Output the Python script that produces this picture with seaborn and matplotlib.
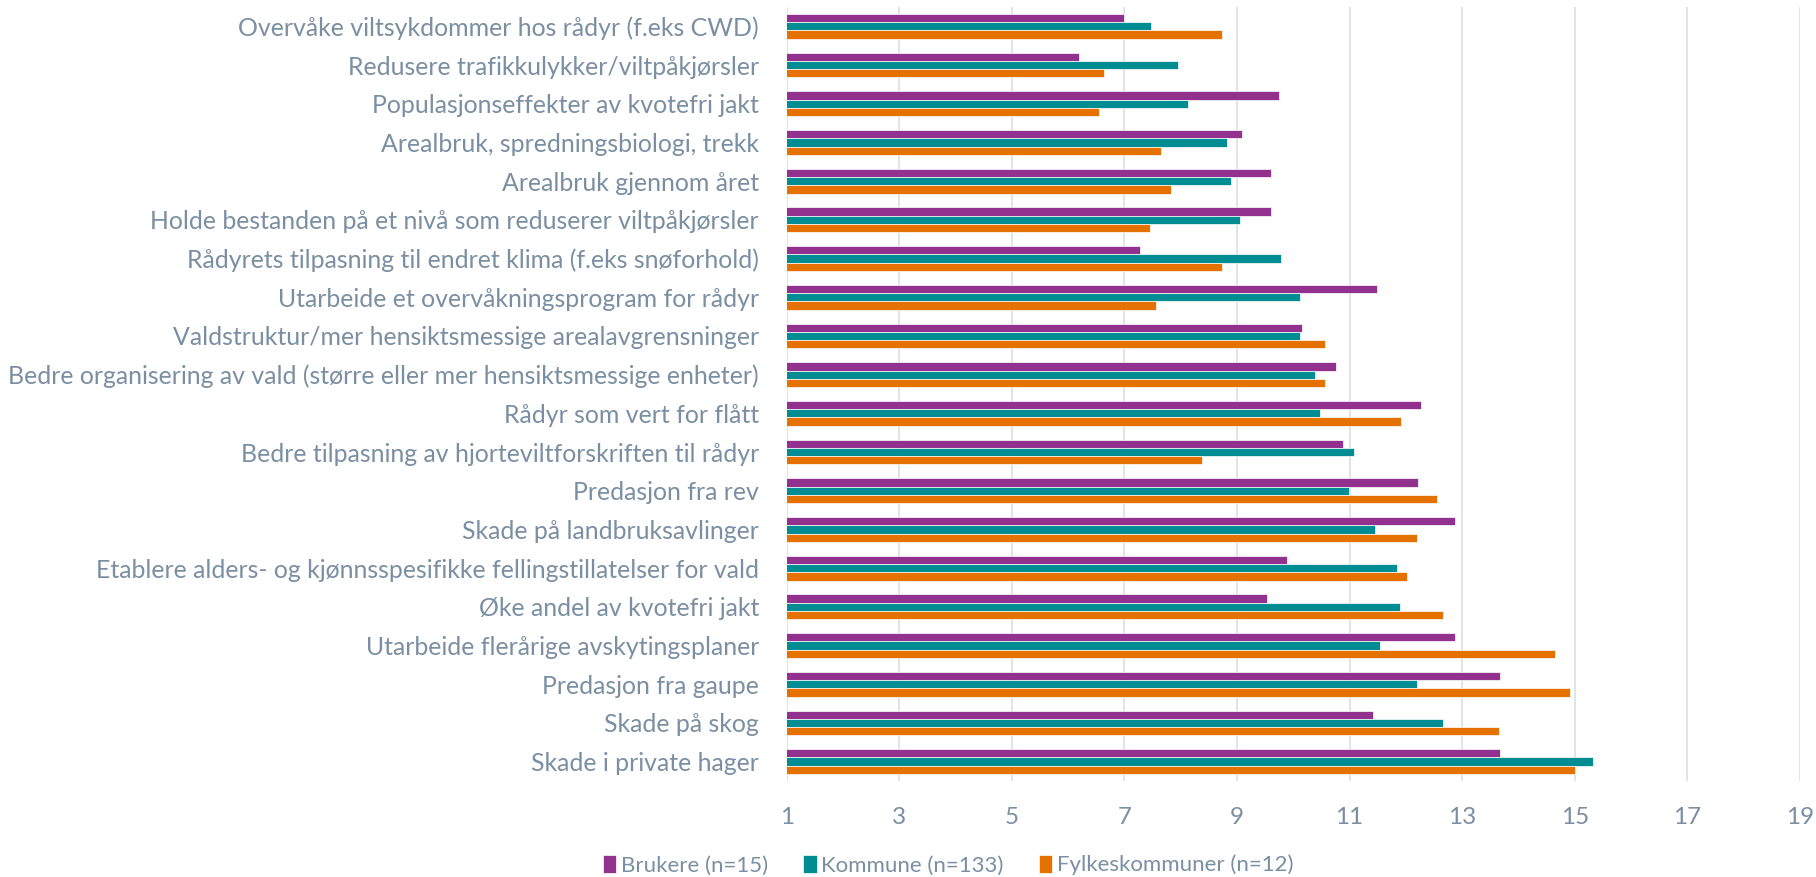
import numpy as np
import pandas as pd
import matplotlib
matplotlib.use("Agg")
import matplotlib.pyplot as plt
import seaborn as sns

categories = [
    "Overvåke viltsykdommer hos rådyr (f.eks CWD)",
    "Redusere trafikkulykker/viltpåkjørsler",
    "Populasjonseffekter av kvotefri jakt",
    "Arealbruk, spredningsbiologi, trekk",
    "Arealbruk gjennom året",
    "Holde bestanden på et nivå som reduserer viltpåkjørsler",
    "Rådyrets tilpasning til endret klima (f.eks snøforhold)",
    "Utarbeide et overvåkningsprogram for rådyr",
    "Valdstruktur/mer hensiktsmessige arealavgrensninger",
    "Bedre organisering av vald (større eller mer hensiktsmessige enheter)",
    "Rådyr som vert for flått",
    "Bedre tilpasning av hjorteviltforskriften til rådyr",
    "Predasjon fra rev",
    "Skade på landbruksavlinger",
    "Etablere alders- og kjønnsspesifikke fellingstillatelser for vald",
    "Øke andel av kvotefri jakt",
    "Utarbeide flerårige avskytingsplaner",
    "Predasjon fra gaupe",
    "Skade på skog",
    "Skade i private hager",
]

brukere = [7.00, 6.20, 9.75, 9.08, 9.61, 9.61, 7.27, 11.49, 10.15, 10.75,
           12.27, 10.88, 12.21, 12.88, 9.88, 9.54, 12.88, 13.67, 11.42, 13.67]
kommune = [7.48, 7.95, 8.12, 8.83, 8.90, 9.05, 9.78, 10.11, 10.12, 10.39,
           10.48, 11.08, 10.99, 11.45, 11.84, 11.89, 11.54, 12.20, 12.65, 15.32]
fylke = [8.74, 6.64, 6.55, 7.65, 7.83, 7.45, 8.74, 7.56, 10.57, 10.57,
         11.92, 8.37, 12.56, 12.19, 12.01, 12.65, 14.65, 14.92, 13.65, 15.01]

series = ["Brukere (n=15)", "Kommune (n=133)", "Fylkeskommuner (n=12)"]
colors = ["#93328E", "#008C93", "#E57200"]
xticks = [1, 3, 5, 7, 9, 11, 13, 15, 17, 19]

df = pd.DataFrame({
    "kategori": categories * 3,
    "verdi": brukere + kommune + fylke,
    "gruppe": [series[0]] * 20 + [series[1]] * 20 + [series[2]] * 20,
})

sns.set_style("white")
plt.rcParams["font.family"] = ["Lato", "DejaVu Sans"]
txt = "#7A8FA2"

fig = plt.figure(figsize=(18.16, 8.77), dpi=100)
ax = fig.add_axes([0.4332, 0.1095, 0.558, 0.8825])

sns.barplot(data=df, x="verdi", y="kategori", hue="gruppe", order=categories,
            hue_order=series, palette=colors, saturation=1, width=0.64,
            orient="h", edgecolor="white", linewidth=0.5, ax=ax, legend=True)

ax.set_xlim(1, 19)
ax.set_ylim(19.5, -0.5)
ax.set_xticks(xticks)
ax.set_xticklabels([str(t) for t in xticks])
ax.grid(axis="x", color="#DDE1E5", linewidth=1.3)
ax.set_axisbelow(True)
for s in ax.spines.values():
    s.set_visible(False)
ax.tick_params(axis="y", length=0, pad=20, labelsize=17.9, labelcolor=txt)
ax.tick_params(axis="x", length=0, pad=19, labelsize=17.5, labelcolor=txt)
ax.set_xlabel("")
ax.set_ylabel("")

handles, labels = ax.get_legend_handles_labels()
ax.get_legend().remove()
leg = fig.legend(handles, labels, loc="center", bbox_to_anchor=(0.522, 0.0137),
                 ncol=3, frameon=False, fontsize=16, handlelength=0.6,
                 handleheight=0.9, handletextpad=0.2, columnspacing=1.6)
for t in leg.get_texts():
    t.set_color(txt)

fig.savefig("out.png", dpi=100)
